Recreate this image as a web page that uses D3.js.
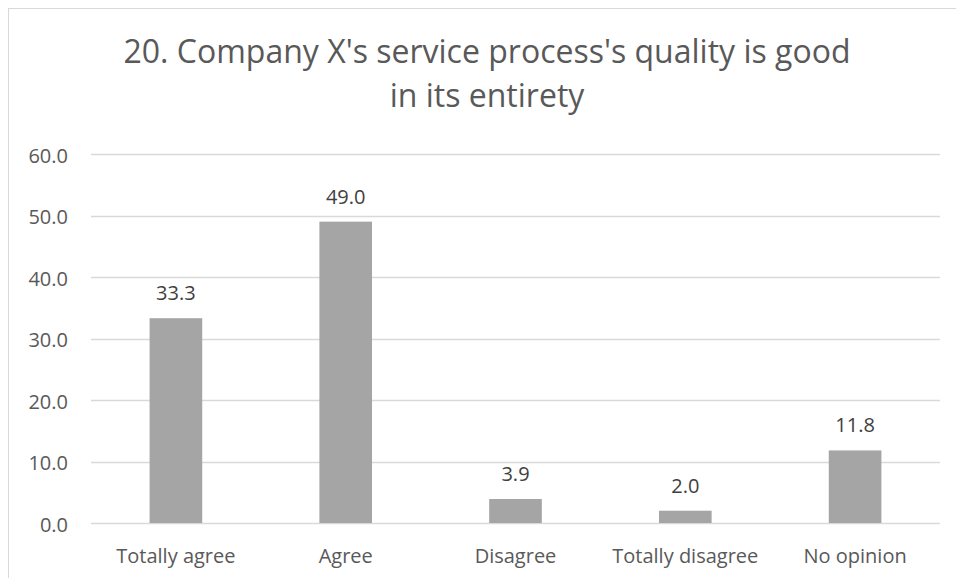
<!DOCTYPE html>
<html>
<head>
<meta charset="utf-8">
<script src="https://cdn.jsdelivr.net/npm/d3@7"></script>
<style>
  html, body { margin: 0; padding: 0; background: #fff; }
  svg { display: block; font-family: "Open Sans", sans-serif; }
</style>
</head>
<body>
<svg id="chart" width="956" height="578"></svg>
<script>
// data
const categories = ['Totally agree', 'Agree', 'Disagree', 'Totally disagree', 'No opinion'];
const values = [33.3, 49.0, 3.9, 2.0, 11.8];
const yTicks = [0, 10, 20, 30, 40, 50, 60];
const titleLines = ["20. Company X's service process's quality is good", 'in its entirety'];

const svg = d3.select('#chart');
const W = 956, H = 578;
const margin = { top: 154, right: 16, bottom: 55, left: 91 };

// chart border
svg.append('rect')
  .attr('x', 8.5).attr('y', 8.5)
  .attr('width', W - 8).attr('height', H)
  .attr('fill', '#fff').attr('stroke', '#d9d9d9');

const x = d3.scaleBand().domain(categories)
  .range([margin.left, W - margin.right]).padding(0);
const y = d3.scaleLinear().domain([0, 60]).range([H - margin.bottom, margin.top]);
const barW = x.bandwidth() * 0.31;

// gridlines
svg.append('g').selectAll('line').data(yTicks).join('line')
  .attr('x1', margin.left).attr('x2', W - margin.right)
  .attr('y1', d => Math.round(y(d)) + 0.5).attr('y2', d => Math.round(y(d)) + 0.5)
  .attr('stroke', '#d9d9d9').attr('stroke-width', 1.3);

// y tick labels
svg.append('g').selectAll('text').data(yTicks).join('text')
  .attr('x', 68).attr('y', d => y(d) + 8.5)
  .attr('text-anchor', 'end')
  .attr('fill', '#595959').attr('font-size', 20)
  .text(d => d3.format('.1f')(d));

// bars
svg.append('g').selectAll('rect').data(values).join('rect')
  .attr('x', (d, i) => x(categories[i]) + (x.bandwidth() - barW) / 2)
  .attr('y', d => y(d))
  .attr('width', barW)
  .attr('height', d => y(0) - y(d))
  .attr('fill', '#a5a5a5');

// value labels
svg.append('g').selectAll('text').data(values).join('text')
  .attr('x', (d, i) => x(categories[i]) + x.bandwidth() / 2)
  .attr('y', d => y(d) - 18)
  .attr('text-anchor', 'middle')
  .attr('fill', '#404040').attr('font-size', 20)
  .text(d => d3.format('.1f')(d));

// category labels
svg.append('g').selectAll('text').data(categories).join('text')
  .attr('x', d => x(d) + x.bandwidth() / 2)
  .attr('y', H - margin.bottom + 40)
  .attr('text-anchor', 'middle')
  .attr('fill', '#595959').attr('font-size', 20)
  .text(d => d);

// title
svg.append('g').selectAll('text').data(titleLines).join('text')
  .attr('x', 487).attr('y', (d, i) => 63 + i * 44)
  .attr('text-anchor', 'middle')
  .attr('fill', '#595959').attr('font-size', 32)
  .text(d => d);
</script>
</body>
</html>
